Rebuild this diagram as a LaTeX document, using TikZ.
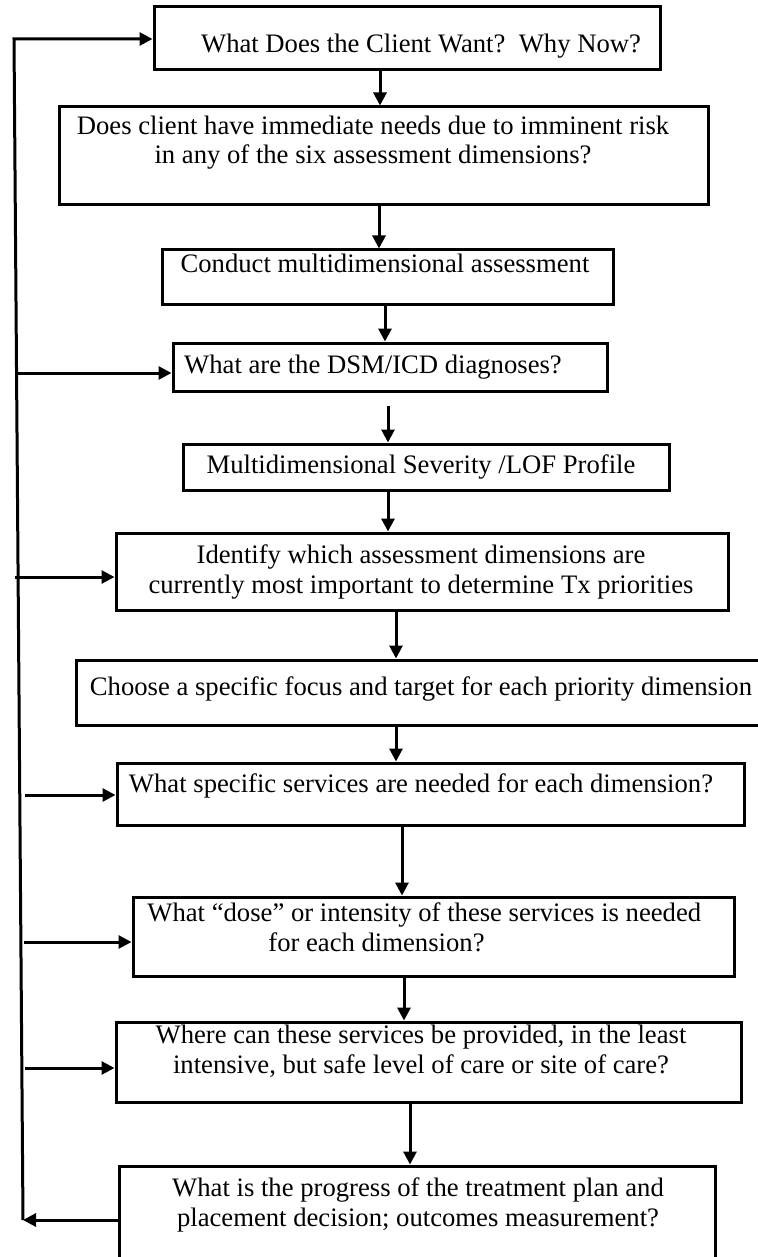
\documentclass[tikz,border=0pt]{standalone}
\usepackage{fontspec}
\setmainfont{Liberation Serif}
\usetikzlibrary{arrows.meta,fit}

\begin{document}
\begin{tikzpicture}[x=0.5pt,y=-0.5pt,
box/.style={draw,line width=1.5pt,inner sep=0pt},
txt/.style={align=center,inner sep=0pt,anchor=base,font=\fontsize{13.33}{14.6}\selectfont},
fbline/.style={line width=1.5pt},
arr/.style={line width=1.5pt,-{Triangle[length=6.5pt,width=6.5pt]}}]

\useasboundingbox[fill=white] (0,0) rectangle (758,1257);

\foreach \n/\xa/\ya/\xb/\yb in {1/154/7/660/70, 2/59/107/708/205,
3/162/250/613/304, 4/173/343/607/391, 5/183/444/669/490,
6/116/533/728/610, 7/76/660/775/725, 8/117/763/744/825,
9/133/897/734/976, 10/116/1022/741/1102, 11/119/1166/715/1272}
\node[box,fit={(\xa,\ya) (\xb,\yb)}] (b\n) {};

\node[txt] (t1) at (421,53) {What Does the Client Want?\ \ Why Now?};
\node[txt] (t2) at (373,164) {Does client have immediate needs due to imminent risk\\
in any of the six assessment dimensions?};
\node[txt] (t3) at (385,272) {Conduct multidimensional assessment};
\node[txt] (t4) at (373,373) {What are the DSM/ICD diagnoses?};
\node[txt] (t5) at (421,473) {Multidimensional Severity /LOF Profile};
\node[txt] (t6) at (421,593) {Identify which assessment dimensions are\\
currently most important to determine Tx priorities};
\node[txt] (t7) at (421,695) {Choose a specific focus and target for each priority dimension};
\node[txt] (t8) at (421,792) {What specific services are needed for each dimension?};
\node[txt,align=left,anchor=base west] (t9) at (147,951) {What ``dose'' or intensity of these services is needed\\
\hspace*{60.5pt}for each dimension?};
\node[txt] (t10) at (421,1073) {Where can these services be provided, in the least\\
intensive, but safe level of care or site of care?};
\node[txt] (t11) at (418,1226) {What is the progress of the treatment plan and\\
placement decision; outcomes measurement?};

\foreach \a/\b/\x in {1/2/380, 2/3/379, 3/4/385, 5/6/388, 6/7/396,
7/8/396, 8/9/402, 9/10/404, 10/11/410}
\draw[arr] (\x,0 |- b\a.south) -- (\x,0 |- b\b.north);
\draw[arr,shorten <=6.5pt] (388,0 |- b4.south) -- (388,0 |- b5.north);

\coordinate (fbtop) at (14,39);
\coordinate (fbbot) at (23,1220);
\draw[arr] (fbbot) -- (fbtop) -- (fbtop -| b1.west);
\foreach \n/\x/\y in {4/15/373, 6/15/577, 8/25/795, 9/24/942, 10/25/1068} {
\coordinate (f\n) at (\x,\y);
\draw[arr] (f\n) -- (f\n -| b\n.west);
}
\draw[arr] (b11.west |- fbbot) -- (fbbot);

\end{tikzpicture}
\end{document}
